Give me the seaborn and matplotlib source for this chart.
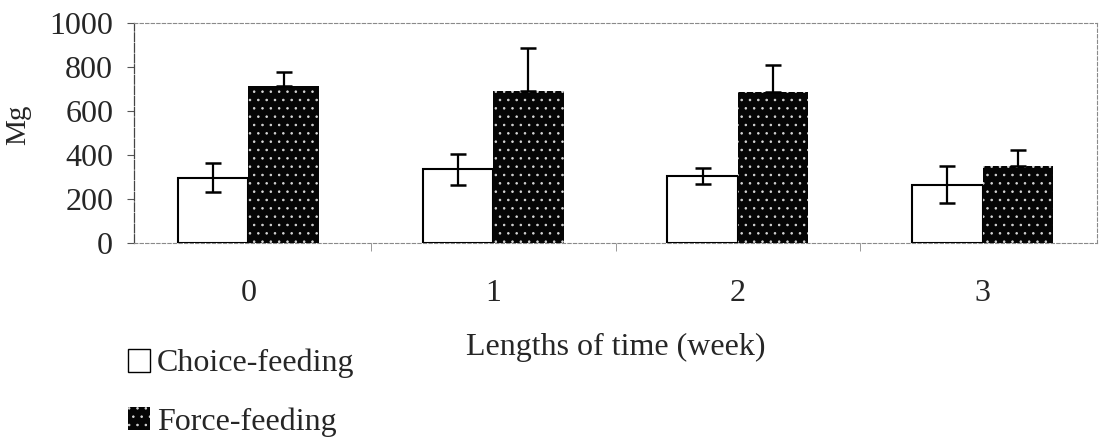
#!/usr/bin/env python3
"""
Dry matter intake (Mg) by feeding method over weeks - bar chart with SE bars.
"""

import matplotlib
matplotlib.use('Agg')
import matplotlib.pyplot as plt
from matplotlib.patches import Patch
import seaborn as sns
import pandas as pd
import numpy as np

# Data
weeks = ['0', '1', '2', '3']
choice_mean = [297, 335, 305, 265]
choice_err = [66, 70, 36, 84]
force_mean = [712, 690, 688, 350]
force_err = [65, 198, 122, 73]
groups = ['Choice-feeding', 'Force-feeding']

sns.set_style('white')
plt.rcParams['font.family'] = ['Liberation Serif', 'DejaVu Serif']
plt.rcParams['hatch.linewidth'] = 0.6

df = pd.DataFrame({
    'Week': weeks * 2,
    'Mg': choice_mean + force_mean,
    'Group': [groups[0]] * 4 + [groups[1]] * 4,
})

fig = plt.figure(figsize=(11.03, 4.47), dpi=100)
ax = fig.add_axes([134 / 1103, 1 - 243 / 447, 963 / 1103, 220 / 447])

sns.barplot(data=df, x='Week', y='Mg', hue='Group', hue_order=groups,
            palette=['white', '#050505'], width=0.577, gap=0,
            errorbar=None, legend=False, ax=ax)

# style the two bar sets
choice_bars, force_bars = ax.containers[0], ax.containers[1]
for bar in choice_bars:
    bar.set_edgecolor('black')
    bar.set_linewidth(1.5)
    bar.set_zorder(3)
for bar in force_bars:
    bar.set_hatch('..')
    bar.set_edgecolor('#d8d8d8')
    bar.set_linewidth(0)
    bar.set_zorder(3)

# error bars placed on the bar centres (force bars only show the upper arm)
xs_c = [b.get_x() + b.get_width() / 2 for b in choice_bars]
xs_f = [b.get_x() + b.get_width() / 2 for b in force_bars]
ax.errorbar(xs_c, choice_mean, yerr=choice_err, fmt='none', ecolor='black',
            elinewidth=1.6, capsize=6, capthick=1.8, zorder=5)
ax.errorbar(xs_f, force_mean, yerr=[[0] * len(force_err), force_err],
            fmt='none', ecolor='black', elinewidth=1.6, capsize=6,
            capthick=1.8, zorder=5)

ax.set_ylim(0, 1000)
ax.set_yticks(np.arange(0, 1001, 200))
ax.set_xlabel('')
ax.set_ylabel('')
ax.tick_params(axis='y', labelsize=23, length=5, width=0.8, direction='out',
               left=True, color='#555555', pad=10)
ax.tick_params(axis='x', labelsize=23, length=0, pad=26)
# faint category-boundary ticks on the x axis
ax.set_xticks([0.5, 1.5, 2.5], minor=True)
ax.tick_params(axis='x', which='minor', bottom=True, length=6, width=0.7,
               color='#999999', direction='out')

# dotted frame like the scanned original
for side in ['top', 'right', 'bottom']:
    ax.spines[side].set_linestyle((0, (3, 2)))
    ax.spines[side].set_color('#8a8a8a')
    ax.spines[side].set_linewidth(0.8)
ax.spines['left'].set_linestyle((0, (7, 1.5)))
ax.spines['left'].set_color('#444444')
ax.spines['left'].set_linewidth(0.9)

fig.text(18 / 1103, 1 - 125 / 447, 'Mg', rotation=90,
         ha='center', va='center', fontsize=21)
fig.text(616 / 1103, 1 - 347 / 447, 'Lengths of time (week)',
         ha='center', va='center', fontsize=23)

handles = [Patch(facecolor='white', edgecolor='black', linewidth=1.0),
           Patch(facecolor='#050505', edgecolor='#d8d8d8', linewidth=0,
                 hatch='..')]
fig.legend(handles=handles, labels=groups, loc='upper left',
           bbox_to_anchor=(128 / 1103, 1 - 349 / 447), frameon=False,
           fontsize=23, handlelength=0.7, handleheight=0.7,
           handletextpad=0.2, labelspacing=0.9, borderaxespad=0,
           borderpad=0)

plt.savefig('out.png', dpi=100)
